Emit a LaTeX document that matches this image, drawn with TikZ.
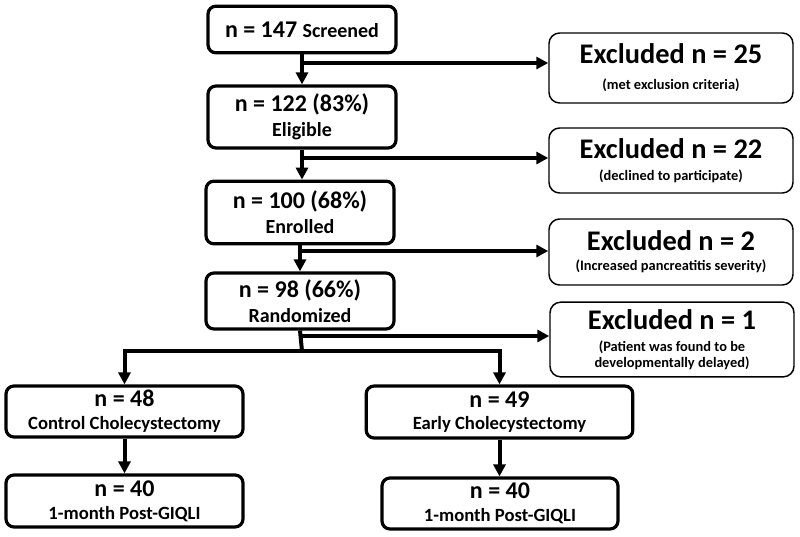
\documentclass[tikz,border=0pt]{standalone}
\usepackage{fontspec}
\setmainfont{Carlito}
\usetikzlibrary{arrows.meta}

\newcommand\numfont{\fontsize{18}{20}\selectfont}
\newcommand\labfont{\fontsize{15}{17}\selectfont}
\newcommand\armfont{\fontsize{14}{16}\selectfont}
\newcommand\exfont{\fontsize{21.3}{23}\selectfont}
\newcommand\whyfont{\fontsize{10.8}{13}\selectfont}

\begin{document}
\begin{tikzpicture}[x=0.75pt, y=-0.75pt,
		stage/.style={draw, line width=2.4pt, rounded corners=6pt, align=center, font=\bfseries, inner sep=0pt},
		excl/.style={draw, line width=1.1pt, rounded corners=8pt, align=center, font=\bfseries, inner sep=0pt, minimum width=183pt},
		flow/.style={line width=3pt, -{Triangle[length=9pt, width=9pt]}}]
		\fill[white] (0,0) rectangle (800,536);

		\node (scr)[stage, minimum width=141pt, minimum height=35pt] at (302,29.5) {\numfont n = 147 \labfont Screened};
		\node (elig)[stage, minimum width=141pt, minimum height=46.5pt] at (302,117) {\numfont n = 122 (83\%)\\[4.5pt]\labfont Eligible};
		\node (enr)[stage, minimum width=141pt, minimum height=47pt] at (300,212.5) {\numfont n = 100 (68\%)\\[4.5pt]\labfont Enrolled};
		\node (rand)[stage, minimum width=141pt, minimum height=42pt] at (300,301) {\numfont n = 98 (66\%)\\[4pt]\labfont Randomized};

		\node (ex1)[excl, minimum height=52.5pt] at (671,68) {\exfont Excluded n = 25\\[7.5pt]\whyfont (met exclusion criteria)};
		\node (ex2)[excl, minimum height=48.75pt] at (671,160.5) {\exfont Excluded n = 22\\[4.5pt]\whyfont (declined to participate)};
		\node (ex3)[excl, minimum height=49.5pt] at (671,252) {\exfont Excluded n = 2\\[3pt]\whyfont (Increased pancreatitis severity)};
		\node (ex4)[excl, minimum height=56pt] at (672,339.5) {\exfont Excluded n = 1\\[4.5pt]\whyfont (Patient was found to be\\\whyfont developmentally delayed)};

		\node (ctl)[stage, minimum width=177.75pt, minimum height=38.25pt] at (124.5,411.5) {\numfont n = 48\\[5pt]\armfont Control Cholecystectomy};
		\node (early)[stage, minimum width=200pt, minimum height=39pt] at (499.5,412) {\numfont n = 49\\[5pt]\armfont Early Cholecystectomy};
		\node (postc)[stage, minimum width=177.75pt, minimum height=39pt] at (124.5,501) {\numfont n = 40\\[5pt]\armfont 1-month Post-GIQLI};
		\node (poste)[stage, minimum width=177pt, minimum height=38.25pt] at (500,503.5) {\numfont n = 40\\[5pt]\armfont 1-month Post-GIQLI};

		\coordinate (j1) at (302,63);
		\coordinate (j2) at (302,158);
		\coordinate (j3) at (302,251);
		\coordinate (j4) at (302,336);
		\coordinate (split) at (302,351);

		\draw[flow] (scr.south) -- (scr.south |- elig.north);
		\draw[flow] (elig.south) -- (elig.south |- enr.north);
		\draw[flow] (enr.south) -- (enr.south |- rand.north);
		\draw[line width=3pt] (rand.south) -- (split);

		\draw[flow] (j1) -- (j1 -| ex1.west);
		\draw[flow] (j2) -- (j2 -| ex2.west);
		\draw[flow] (j3) -- (j3 -| ex3.west);
		\draw[flow] (j4) -- (j4 -| ex4.west);

		\draw[flow] (split) -| (ctl.north);
		\draw[flow] (split) -| (early.north);
		\draw[flow] (ctl.south) -- (ctl.south |- postc.north);
		\draw[flow] (early.south) -- (early.south |- poste.north);
	\end{tikzpicture}
\end{document}
